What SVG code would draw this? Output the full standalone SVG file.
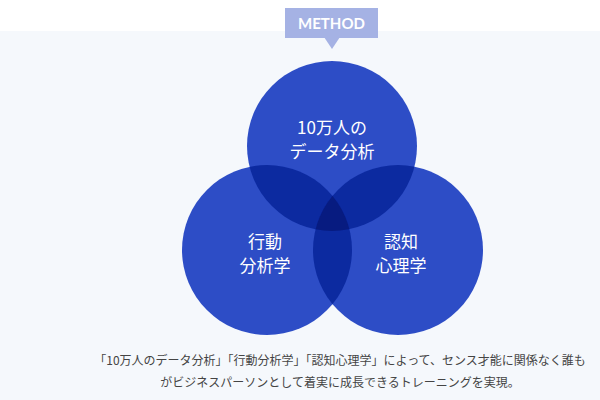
<svg xmlns="http://www.w3.org/2000/svg" width="600" height="400" viewBox="0 0 600 400">
<style>
.c{fill:#2d4dc6}
.t{font-family:"Noto Sans CJK JP","Noto Sans",sans-serif;fill:#fff;font-size:17px;text-anchor:middle}
.d{font-family:"Noto Sans CJK JP","Noto Sans",sans-serif;fill:#444;font-size:12px;text-anchor:middle}
</style>
<defs>
<clipPath id="cA"><circle cx="332" cy="146" r="85"/></clipPath>
<clipPath id="cB"><circle cx="267" cy="250" r="85"/></clipPath>
<clipPath id="cC"><circle cx="398" cy="250" r="85"/></clipPath>
</defs>
<rect width="600" height="400" fill="#ffffff"/>
<rect y="31" width="600" height="369" fill="#f5f8fc"/>
<g id="label">
<rect x="285" y="8" width="93" height="30" fill="#a5b2e4"/>
<polygon points="324,37 340,37 332,49" fill="#a5b2e4"/>
<text x="331.5" y="29" font-family="Lato,'Noto Sans',sans-serif" font-weight="bold" font-size="15" fill="#fff" text-anchor="middle">METHOD</text>
</g>
<g id="data"><circle class="c" cx="332" cy="146" r="85"/></g>
<g id="behavior"><circle class="c" cx="267" cy="250" r="85"/></g>
<g id="cognitive"><circle class="c" cx="398" cy="250" r="85"/></g>
<g id="overlaps" fill="#0c2aa0">
<g clip-path="url(#cA)"><circle cx="267" cy="250" r="85"/><circle cx="398" cy="250" r="85"/></g>
<g clip-path="url(#cB)"><circle cx="398" cy="250" r="85"/></g>
<g clip-path="url(#cA)"><g clip-path="url(#cB)"><circle cx="398" cy="250" r="85" fill="#071b80"/></g></g>
</g>
<g id="labels">
<text class="t" x="332" y="134">10万人の</text><text class="t" x="332" y="158">データ分析</text>
<text class="t" x="265" y="248">行動</text><text class="t" x="265" y="272">分析学</text>
<text class="t" x="401" y="248">認知</text><text class="t" x="401" y="272">心理学</text>
</g>
<g id="connectors"/>
<text class="d" x="340" y="365">「10万人のデータ分析」「行動分析学」「認知心理学」によって、センス才能に関係なく誰も</text>
<text class="d" x="340" y="387">がビジネスパーソンとして着実に成長できるトレーニングを実現。</text>
</svg>
